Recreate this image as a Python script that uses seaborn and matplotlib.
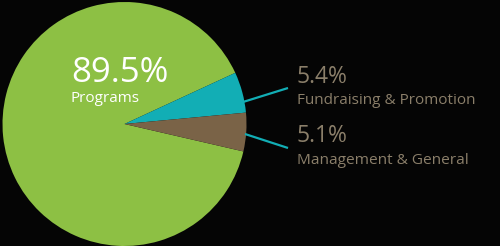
import matplotlib
matplotlib.use("Agg")
import matplotlib.pyplot as plt
import seaborn as sns

# Data
categories = ["Programs", "Fundraising & Promotion", "Management & General"]
values = [89.5, 5.4, 5.1]
pct_labels = ["89.5%", "5.4%", "5.1%"]
slice_colors = ["#8DC044", "#12AEB5", "#7A6347"]

sns.set_theme(style="dark", rc={"axes.facecolor": "#050505", "figure.facecolor": "#050505"})
plt.rcParams['font.family'] = ['Open Sans', 'DejaVu Sans']

palette = sns.color_palette(slice_colors)

fig = plt.figure(figsize=(5.0, 2.46), dpi=100)
ax = fig.add_axes([0, 0, 1, 1])

ax.pie(values, colors=palette, startangle=-13, counterclock=False,
       center=(124.5, 122), radius=122, frame=True,
       wedgeprops=dict(linewidth=0))
ax.set_xlim(0, 500)
ax.set_ylim(0, 246)
ax.set_aspect("equal")
ax.axis("off")

text_col = "#8B7F6A"
# Programs label inside pie
ax.text(71, 164, pct_labels[0], color="white", fontsize=25, va="baseline", ha="left")
ax.text(71, 144, categories[0], color="white", fontsize=11, va="baseline", ha="left")

# Right labels
ax.text(297, 163, pct_labels[1], color=text_col, fontsize=16.5, va="baseline", ha="left")
ax.text(297, 142, categories[1], color=text_col, fontsize=11.0, va="baseline", ha="left")
ax.text(297, 104, pct_labels[2], color=text_col, fontsize=16.5, va="baseline", ha="left")
ax.text(297, 82, categories[2], color=text_col, fontsize=11.1, va="baseline", ha="left")

# Leader lines
line_col = slice_colors[1]
ax.plot([243, 288], [144, 158], color=line_col, lw=1.6, solid_capstyle="butt")
ax.plot([245, 288], [112, 98], color=line_col, lw=1.6, solid_capstyle="butt")

fig.savefig("out.png", dpi=100, facecolor=fig.get_facecolor())
